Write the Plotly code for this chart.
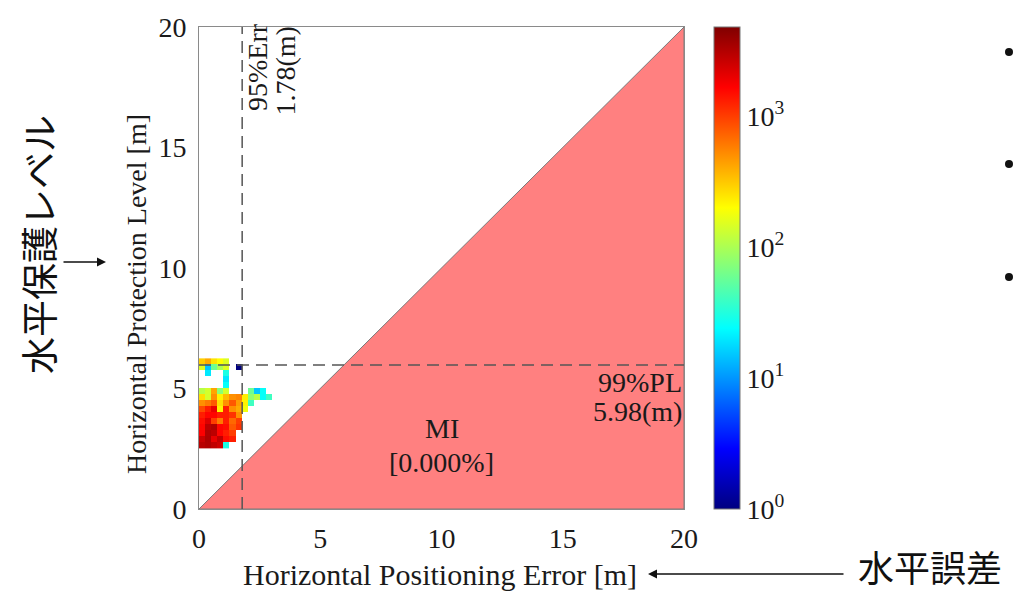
import numpy as np
import plotly.graph_objects as go

# ---------------- data ----------------
# 2-D histogram bins (0.25 m) : x = horizontal positioning error, y = horizontal protection level
x_edges_start = 0.0
bin_w = 0.25
y_edges_start = 2.5
# counts per bin, rows from y=2.50 (bottom) upward, 12 columns from x=0
counts = [
    [3000, 3200, 2800, 2500,   30,    0,    0,   0,  0,   0,  0,  0],  # 2.50-2.75
    [2600, 3300, 2000, 2800, 1500, 1300,    0,   0,  0,   0,  0,  0],  # 2.75-3.00
    [1700, 3200, 2900, 1600, 1300, 1000,    0,   0,  0,   0,  0,  0],  # 3.00-3.25
    [1600, 2900, 3200, 1600, 1500,  800, 1100,   0,  0,   0,  0,  0],  # 3.25-3.50
    [1500, 2200, 1000,  600, 1300,  700, 1000,   0,  0,   0,  0,  0],  # 3.50-3.75
    [1300, 1600, 1600, 1300, 1300, 1100,  500,   0,  0,   0,  0,  0],  # 3.75-4.00
    [ 900, 1300, 2000,  220, 1300,  500,  400, 180,  0,   0,  0,  0],  # 4.00-4.25
    [ 500,  600,  800,  260,  500,  800,  450, 220, 40,   0,  0,  0],  # 4.25-4.50
    [ 260,  140,  500,  220,  350,  500,  550, 230, 80, 110, 25, 40],  # 4.50-4.75
    [ 110,  140,  420,   75,  140,    0,    0,   0, 60,  15, 25,  0],  # 4.75-5.00
    [   0,    0,    0,    0,   25,    0,    0,   0,  0,   0,  0,  0],  # 5.00-5.25
    [   0,    0,    0,    0,   20,    0,    0,   0,  0,   0,  0,  0],  # 5.25-5.50
    [   0,   20,    0,    0,   30,    0,    0,   0,  0,   0,  0,  0],  # 5.50-5.75
    [ 150,   15,   60,  100,  150,    0,    1,   0,  0,   0,  0,  0],  # 5.75-6.00
    [ 300,  400,  250,  200,  150,    0,    0,   0,  0,   0,  0,  0],  # 6.00-6.25
]
err95 = 1.78          # 95% horizontal error [m]
pl99 = 5.98           # 99% protection level [m]
mi_rate = 0.000       # misleading information rate [%]
mi_region_x = [0, 20, 20, 0]
mi_region_y = [0, 20, 0, 0]
axis_ticks = [0, 5, 10, 15, 20]
cbar_exponents = [0, 1, 2, 3]

# ---------------- figure ----------------
cnt = np.array(counts, dtype=float)
nrow, ncol = cnt.shape
x_centers = x_edges_start + bin_w * (np.arange(ncol) + 0.5)
y_centers = y_edges_start + bin_w * (np.arange(nrow) + 0.5)
z = np.where(cnt > 0, np.log10(np.where(cnt > 0, cnt, 1)), np.nan)

jet = [
    [0.0, "rgb(0,0,128)"],
    [0.125, "rgb(0,0,255)"],
    [0.375, "rgb(0,255,255)"],
    [0.625, "rgb(255,255,0)"],
    [0.875, "rgb(255,0,0)"],
    [1.0, "rgb(128,0,0)"],
]

SERIF = "Liberation Serif"
CJK = "Noto Sans CJK JP"
TXT = "#1a1a1a"

fig = go.Figure()

fig.add_trace(go.Scatter(
    x=mi_region_x, y=mi_region_y, fill="toself", fillcolor="#FF8080",
    line=dict(color="#7a7a7a", width=1), mode="lines", hoverinfo="skip", showlegend=False))

fig.add_trace(go.Heatmap(
    x=x_centers, y=y_centers, z=z, zmin=0, zmax=3.68, colorscale=jet,
    showscale=True, hoverongaps=False,
    colorbar=dict(
        x=(714 - 199) / 485, xanchor="left", y=0.5, yanchor="middle",
        len=1.0, lenmode="fraction", thickness=26, thicknessmode="pixels",
        xpad=0, ypad=0, outlinecolor="#777", outlinewidth=1,
        tickvals=cbar_exponents,
        ticktext=["10<sup>%d</sup>" % e for e in cbar_exponents],
        ticks="", tickfont=dict(family=SERIF, size=28, color=TXT)),
))

fig.add_trace(go.Scatter(
    x=[err95, err95], y=[0, 20], mode="lines",
    line=dict(color="#555555", width=1.5, dash="12px,7px"), hoverinfo="skip", showlegend=False))
fig.add_trace(go.Scatter(
    x=[0, 20], y=[pl99, pl99], mode="lines",
    line=dict(color="#555555", width=1.5, dash="12px,7px"), hoverinfo="skip", showlegend=False))

axis_common = dict(
    range=[0, 20], tickvals=axis_ticks, ticks="", showgrid=False, zeroline=False,
    showline=True, mirror=True, linecolor="#8a8a8a", linewidth=1,
    tickfont=dict(family=SERIF, size=28, color=TXT))
fig.update_xaxes(**axis_common, ticklabelstandoff=4)
fig.update_yaxes(**axis_common, ticklabelstandoff=6)

ann = []
# axis titles
ann.append(dict(text="Horizontal Positioning Error [m]", xref="paper", yref="paper",
                x=(440 - 199) / 485, y=(509 - 574) / 482, xanchor="center", yanchor="middle",
                showarrow=False, font=dict(family=SERIF, size=30, color=TXT)))
ann.append(dict(text="Horizontal Protection Level [m]", xref="paper", yref="paper",
                x=(136 - 199) / 485, y=(509 - 294) / 482, xanchor="center", yanchor="middle",
                showarrow=False, textangle=-90, font=dict(family=SERIF, size=28, color=TXT)))
# 95% error label (rotated)
ann.append(dict(text="95%Err", x=(257 - 199) / 24.25, y=(509 - 113) / 24.1, xref="x", yref="y",
                xanchor="center", yanchor="bottom", textangle=-90, showarrow=False,
                font=dict(family=SERIF, size=28, color=TXT)))
ann.append(dict(text="%.2f(m)" % err95, x=(285 - 199) / 24.25, y=(509 - 118) / 24.1, xref="x", yref="y",
                xanchor="center", yanchor="bottom", textangle=-90, showarrow=False,
                font=dict(family=SERIF, size=28, color=TXT)))
# 99% PL label
ann.append(dict(text="99%PL", x=20, y=(509 - 382) / 24.1, xref="x", yref="y",
                xanchor="right", yanchor="middle", showarrow=False,
                font=dict(family=SERIF, size=28, color=TXT)))
ann.append(dict(text="%.2f(m)" % pl99, x=20, y=(509 - 411) / 24.1, xref="x", yref="y",
                xanchor="right", yanchor="middle", showarrow=False,
                font=dict(family=SERIF, size=28, color=TXT)))
# MI label
ann.append(dict(text="MI", x=10, y=(509 - 428) / 24.1, xref="x", yref="y",
                xanchor="center", yanchor="middle", showarrow=False,
                font=dict(family=SERIF, size=28, color=TXT)))
ann.append(dict(text="[%.3f%%]" % mi_rate, x=10, y=(509 - 462) / 24.1, xref="x", yref="y",
                xanchor="center", yanchor="middle", showarrow=False,
                font=dict(family=SERIF, size=28, color=TXT)))
# Japanese labels + arrows
ann.append(dict(text="水平保護レベル", xref="paper", yref="paper",
                x=(38 - 199) / 485, y=(509 - 245) / 482, xanchor="center", yanchor="middle",
                showarrow=False, textangle=-90, font=dict(family=CJK, size=37, color="#111")))
ann.append(dict(text="", xref="paper", yref="paper",
                x=(106 - 199) / 485, y=(509 - 262) / 482, ax=-44, ay=0,
                showarrow=True, arrowhead=2, arrowsize=1.2, arrowwidth=1.5, arrowcolor="#111"))
ann.append(dict(text="水平誤差", xref="paper", yref="paper",
                x=(930 - 199) / 485, y=(509 - 566) / 482, xanchor="center", yanchor="middle",
                showarrow=False, font=dict(family=CJK, size=36, color="#111")))
ann.append(dict(text="", xref="paper", yref="paper",
                x=(648 - 199) / 485, y=(509 - 574) / 482, ax=197, ay=0,
                showarrow=True, arrowhead=2, arrowsize=1.2, arrowwidth=1.5, arrowcolor="#111"))

shapes = []
for py in (52, 164, 277):
    cx = (1009 - 199) / 485
    cy = (509 - py) / 482
    rx, ry = 4 / 485, 4 / 482
    shapes.append(dict(type="circle", xref="paper", yref="paper",
                       x0=cx - rx, x1=cx + rx, y0=cy - ry, y1=cy + ry,
                       fillcolor="#111", line=dict(width=0)))

fig.update_layout(
    width=1014, height=593, autosize=False,
    margin=dict(l=199, r=330, t=27, b=84, pad=0),
    paper_bgcolor="white", plot_bgcolor="white",
    showlegend=False, annotations=ann, shapes=shapes,
)

fig.write_html("out.html")
